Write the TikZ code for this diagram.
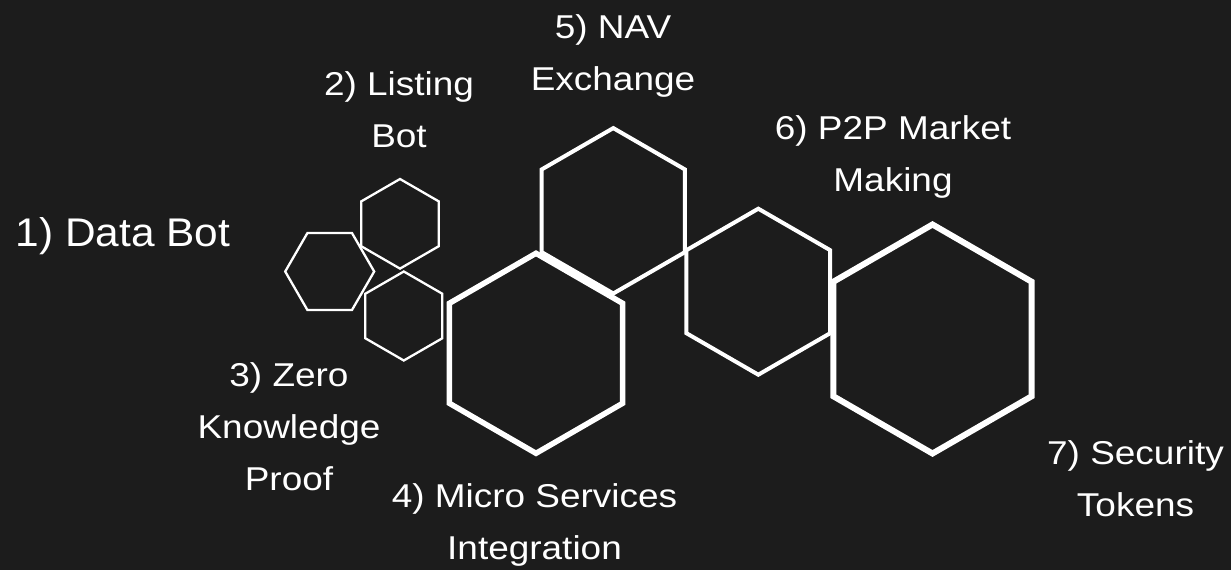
\documentclass[tikz,border=0pt]{standalone}
\usepackage{fontspec}
\usetikzlibrary{shapes.geometric}
\newfontfamily\labelfont{Liberation Sans}[FakeStretch=1.12]
\newfontfamily\leadfont{Liberation Sans}[FakeStretch=1.06]
\definecolor{bgdark}{HTML}{1C1C1C}

\begin{document}
\begin{tikzpicture}[x=1pt,y=-1pt,
    hexcell/.style={draw=white,regular polygon,regular polygon sides=6,inner sep=0pt,outer sep=0pt,line join=miter},
    tag/.style={text=white,align=center,inner sep=0pt,font=\labelfont\fontsize{33}{52}\selectfont,anchor=base}]
    \fill [ bgdark ] (0,0) rectangle (1231,570);
    \useasboundingbox (0,0) rectangle (1231,570);

    % small cells
    \node [ hexcell,line width=2.3pt,minimum size=89pt ] (databot) at (329.7,271.5) {};
    \node [ hexcell,line width=2.3pt,minimum size=89.6pt,shape border rotate=30 ] (listing) at (400,223.8) {};
    \node [ hexcell,line width=2.3pt,minimum size=89pt,shape border rotate=30 ] (zkp) at (403.8,316) {};

    % big cells
    \node [ hexcell,line width=5.5pt,minimum size=200pt,shape border rotate=30 ] (micro) at (536,353.3) {};
    \node [ hexcell,line width=4pt,minimum size=165.4pt,shape border rotate=30 ] (nav) at (613.3,210.8) {};
    \node [ hexcell,line width=4pt,minimum size=166pt,shape border rotate=30 ] (ptop) at (758.3,291.7) {};
    \node [ hexcell,line width=6pt,minimum size=229pt,shape border rotate=30 ] (security) at (932.5,339) {};

    % labels (anchored at the baseline of the last line)
    \node [ tag,font=\leadfont\fontsize{40}{52}\selectfont ] (databottag) at (123,246.7) {1) Data Bot};
    \node [ tag ] (listingtag) at (399,147.3) {2) Listing\\Bot};
    \node [ tag ] (zkptag) at (289,490) {3) Zero\\Knowledge\\Proof};
    \node [ tag ] (microtag) at (534.5,559.3) {4) Micro Services\\Integration};
    \node [ tag ] (navtag) at (613,90) {5) NAV\\Exchange};
    \node [ tag ] (ptoptag) at (893,191) {6) P2P Market\\Making};
    \node [ tag ] (securitytag) at (1135.5,516.7) {7) Security\\Tokens};
\end{tikzpicture}
\end{document}
